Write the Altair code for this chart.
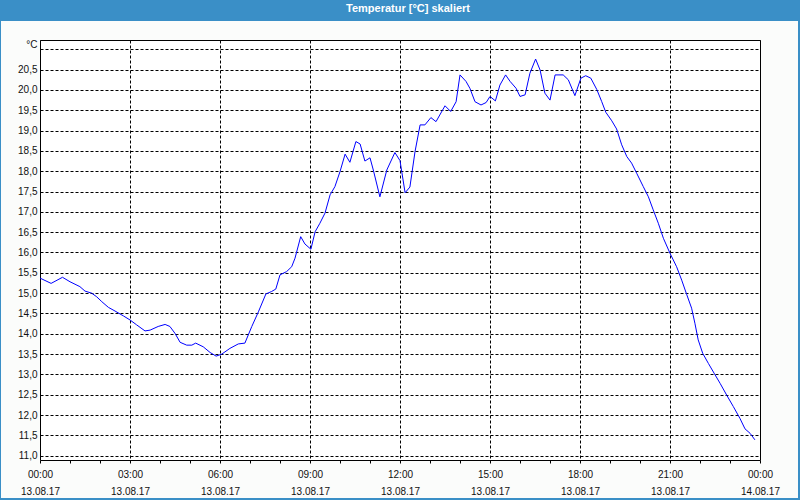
import json
import altair as alt
import pandas as pd

# ---- data (hours since 13.08.17 00:00, temperature in °C) ----
hours = [0.0, 0.37, 0.75, 1.0, 1.33, 1.5, 1.72, 1.89, 2.06, 2.28, 2.5, 2.78, 3.0, 3.22, 3.5, 3.67,
         3.94, 4.17, 4.33, 4.5, 4.67, 4.89, 5.06, 5.19, 5.44, 5.67, 5.87, 6.06, 6.33, 6.61, 6.83,
         7.06, 7.28, 7.53, 7.72, 7.86, 8.0, 8.22, 8.39, 8.5, 8.69, 8.83, 9.03, 9.17, 9.33, 9.5,
         9.67, 9.83, 10.0, 10.17, 10.33, 10.53, 10.67, 10.83, 11.0, 11.11, 11.33, 11.56, 11.83,
         12.0, 12.17, 12.33, 12.5, 12.67, 12.83, 13.03, 13.2, 13.5, 13.69, 13.87, 14.0, 14.2,
         14.33, 14.5, 14.7, 14.87, 15.0, 15.18, 15.33, 15.52, 15.67, 15.87, 16.0, 16.17, 16.33,
         16.52, 16.67, 16.83, 17.0, 17.17, 17.44, 17.61, 17.83, 18.03, 18.19, 18.36, 18.56,
         18.72, 18.86, 19.06, 19.22, 19.39, 19.56, 19.72, 19.89, 20.11, 20.28, 20.44, 20.61,
         20.78, 21.0, 21.22, 21.39, 21.56, 21.72, 21.83, 21.94, 22.09, 22.28, 22.47, 22.67,
         22.89, 23.11, 23.33, 23.5, 23.67, 23.83]
temps = [15.37, 15.24, 15.39, 15.28, 15.16, 15.05, 15.0, 14.91, 14.79, 14.65, 14.56, 14.44, 14.34,
         14.22, 14.07, 14.09, 14.18, 14.23, 14.18, 14.01, 13.79, 13.72, 13.72, 13.77, 13.68,
         13.54, 13.45, 13.50, 13.64, 13.75, 13.77, 14.18, 14.54, 14.98, 15.04, 15.10, 15.45,
         15.53, 15.65, 15.86, 16.39, 16.21, 16.08, 16.51, 16.72, 16.97, 17.42, 17.62, 17.99,
         18.42, 18.22, 18.73, 18.67, 18.25, 18.33, 18.03, 17.37, 18.03, 18.46, 18.26, 17.47,
         17.61, 18.48, 19.14, 19.14, 19.32, 19.22, 19.61, 19.47, 19.71, 20.37, 20.21, 20.04,
         19.71, 19.63, 19.69, 19.84, 19.73, 20.12, 20.37, 20.21, 20.04, 19.84, 19.88, 20.41,
         20.76, 20.49, 19.92, 19.75, 20.37, 20.37, 20.25, 19.86, 20.29, 20.35, 20.29, 20.01,
         19.72, 19.45, 19.24, 19.04, 18.65, 18.36, 18.20, 17.95, 17.62, 17.37, 17.05, 16.72,
         16.35, 15.98, 15.65, 15.32, 14.96, 14.63, 14.26, 13.85, 13.52, 13.27, 13.03, 12.78,
         12.49, 12.21, 11.92, 11.66, 11.55, 11.39]

x_tick_hours = list(range(0, 25))
x_label_times = ["00:00", "03:00", "06:00", "09:00", "12:00", "15:00", "18:00", "21:00", "00:00"]
x_label_dates = ["13.08.17"] * 8 + ["14.08.17"]
y_tick_values = [11.0 + 0.5 * i for i in range(21)]
y_tick_labels = ["11,0", "11,5", "12,0", "12,5", "13,0", "13,5", "14,0", "14,5", "15,0", "15,5",
                 "16,0", "16,5", "17,0", "17,5", "18,0", "18,5", "19,0", "19,5", "20,0", "20,5", "°C"]
title_text = "Temperatur [°C] skaliert"

df = pd.DataFrame({"h": hours, "t": temps})

BLUE = "#3a8fc7"
FONT = "Liberation Sans"
LABEL_COLOR = "#111111"

x_pairs = json.dumps([[t, d] for t, d in zip(x_label_times, x_label_dates)], ensure_ascii=False)
x_expr = f"datum.value % 3 == 0 ? {x_pairs}[round(datum.value / 3)] : ''"
y_arr = json.dumps(y_tick_labels, ensure_ascii=False)
y_expr = f"{y_arr}[round((datum.value - 11) * 2)]"

line = alt.Chart(df).mark_line(color="#0000ff", strokeWidth=1).encode(
    x=alt.X("h:Q", title=None,
            scale=alt.Scale(domain=[0, 24], nice=False, zero=False),
            axis=alt.Axis(values=x_tick_hours, grid=True, gridColor="black", gridDash=[3, 2],
                          gridOpacity={"condition": {"test": "datum.value % 3 == 0", "value": 1}, "value": 0},
                          ticks=True, tickSize=3, tickColor="black", domain=False,
                          labelExpr=x_expr, labelFont=FONT, labelFontSize=10, labelColor=LABEL_COLOR,
                          labelPadding=6, labelLineHeight=17, labelBaseline="top",
                          labelOverlap=False, labelFlush=False)),
    y=alt.Y("t:Q", title=None,
            scale=alt.Scale(domain=[10.894, 21.229], nice=False, zero=False),
            axis=alt.Axis(values=y_tick_values, grid=True, gridColor="black", gridDash=[3, 2],
                          ticks=False, domain=False, labelExpr=y_expr, labelFont=FONT,
                          labelFontSize=10, labelColor=LABEL_COLOR, labelPadding=3,
                          labelBaseline="middle", labelOverlap=False, labelFlush=False,
                          labelOffset={"condition": {"test": "datum.value == 21", "value": -5}, "value": 0})),
)

one = alt.Data(values=[{}])
title_bar = alt.Chart(one).mark_rect(color=BLUE).encode(
    x=alt.value(-40), x2=alt.value(760), y=alt.value(-40), y2=alt.value(-19))
left_b = alt.Chart(one).mark_rect(color=BLUE).encode(
    x=alt.value(-40), x2=alt.value(-39), y=alt.value(-40), y2=alt.value(460))
right_b = alt.Chart(one).mark_rect(color=BLUE).encode(
    x=alt.value(758), x2=alt.value(760), y=alt.value(-40), y2=alt.value(460))
bottom_b = alt.Chart(one).mark_rect(color=BLUE).encode(
    x=alt.value(-40), x2=alt.value(760), y=alt.value(458), y2=alt.value(460))
title = alt.Chart(one).mark_text(color="white", font=FONT, fontSize=11, fontWeight="bold",
                                 align="center", baseline="alphabetic").encode(
    x=alt.value(368), y=alt.value(-28), text=alt.value(title_text))

chart = alt.layer(line, title_bar, left_b, right_b, bottom_b, title).properties(
    width=720, height=420,
    autosize=alt.AutoSizeParams(type="none"),
    padding={"left": 40, "top": 40, "right": 40, "bottom": 40},
    background="#fbfcfb",
).configure_view(fill="white", stroke="black", strokeWidth=1)

chart.save("out.html", embed_options={"renderer": "svg", "actions": False})
